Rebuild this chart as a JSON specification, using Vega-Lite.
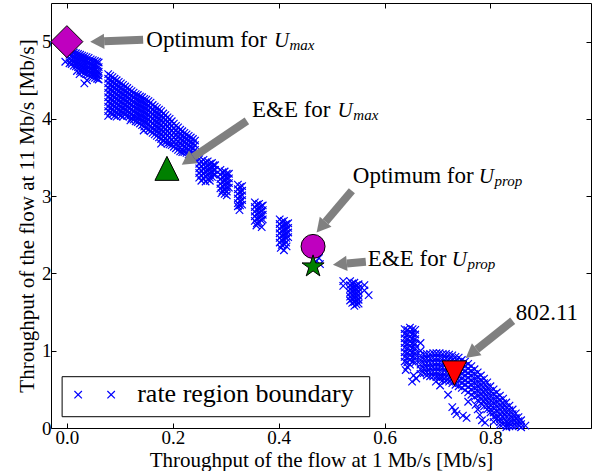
{
"$schema": "https://vega.github.io/schema/vega-lite/v6.json",
"width": 540, "height": 425,
"autosize": {"type": "none"},
"padding": {"left": 51, "top": 3, "right": 1, "bottom": 43},
"background": "white",
"config": {"view": {"stroke": "black", "strokeWidth": 1}, "font": "Liberation Serif, serif", "text": {"font": "Liberation Serif, serif"}},
"datasets": {
"boundary": [
{"x":0.005,"y":4.89},{"x":0.005,"y":4.83},{"x":0.005,"y":4.77},{"x":0.005,"y":4.72},
{"x":0.013,"y":4.86},{"x":0.013,"y":4.80},{"x":0.013,"y":4.74},{"x":0.013,"y":4.69},
{"x":0.021,"y":4.84},{"x":0.021,"y":4.78},{"x":0.021,"y":4.72},{"x":0.021,"y":4.67},
{"x":0.029,"y":4.82},{"x":0.029,"y":4.76},{"x":0.029,"y":4.70},{"x":0.029,"y":4.65},{"x":0.029,"y":4.61},
{"x":0.037,"y":4.80},{"x":0.037,"y":4.74},{"x":0.037,"y":4.68},{"x":0.037,"y":4.63},{"x":0.037,"y":4.58},
{"x":0.045,"y":4.77},{"x":0.045,"y":4.71},{"x":0.045,"y":4.65},{"x":0.045,"y":4.60},{"x":0.045,"y":4.55},
{"x":0.053,"y":4.75},{"x":0.053,"y":4.69},{"x":0.053,"y":4.63},{"x":0.053,"y":4.58},{"x":0.053,"y":4.53},
{"x":0.060,"y":4.73},{"x":0.060,"y":4.67},{"x":0.060,"y":4.61},{"x":0.060,"y":4.56},{"x":0.060,"y":4.51},
{"x":0.009,"y":4.88},{"x":0.009,"y":4.82},{"x":0.009,"y":4.76},{"x":0.009,"y":4.71},
{"x":0.017,"y":4.85},{"x":0.017,"y":4.79},{"x":0.017,"y":4.73},{"x":0.017,"y":4.68},
{"x":0.025,"y":4.83},{"x":0.025,"y":4.77},{"x":0.025,"y":4.71},{"x":0.025,"y":4.66},{"x":0.025,"y":4.62},
{"x":0.033,"y":4.81},{"x":0.033,"y":4.75},{"x":0.033,"y":4.69},{"x":0.033,"y":4.64},{"x":0.033,"y":4.59},
{"x":0.041,"y":4.79},{"x":0.041,"y":4.73},{"x":0.041,"y":4.67},{"x":0.041,"y":4.62},{"x":0.041,"y":4.57},
{"x":0.049,"y":4.76},{"x":0.049,"y":4.70},{"x":0.049,"y":4.64},{"x":0.049,"y":4.59},{"x":0.049,"y":4.54},
{"x":0.057,"y":4.74},{"x":0.057,"y":4.68},{"x":0.057,"y":4.62},{"x":0.057,"y":4.57},{"x":0.057,"y":4.52},
{"x":-0.003,"y":4.74},{"x":0.019,"y":4.62},{"x":0.024,"y":4.58},{"x":0.033,"y":4.46},{"x":0.038,"y":4.50},
{"x":0.078,"y":4.58},{"x":0.078,"y":4.52},{"x":0.078,"y":4.46},{"x":0.078,"y":4.40},{"x":0.078,"y":4.34},{"x":0.078,"y":4.28},{"x":0.078,"y":4.22},{"x":0.078,"y":4.16},{"x":0.078,"y":4.10},{"x":0.078,"y":4.04},
{"x":0.086,"y":4.54},{"x":0.086,"y":4.48},{"x":0.086,"y":4.42},{"x":0.086,"y":4.36},{"x":0.086,"y":4.30},{"x":0.086,"y":4.24},{"x":0.086,"y":4.18},{"x":0.086,"y":4.12},{"x":0.086,"y":4.06},
{"x":0.094,"y":4.50},{"x":0.094,"y":4.44},{"x":0.094,"y":4.38},{"x":0.094,"y":4.32},{"x":0.094,"y":4.26},{"x":0.094,"y":4.20},{"x":0.094,"y":4.14},{"x":0.094,"y":4.08},{"x":0.094,"y":4.03},
{"x":0.102,"y":4.46},{"x":0.102,"y":4.40},{"x":0.102,"y":4.34},{"x":0.102,"y":4.28},{"x":0.102,"y":4.22},{"x":0.102,"y":4.16},{"x":0.102,"y":4.10},{"x":0.102,"y":4.04},
{"x":0.110,"y":4.42},{"x":0.110,"y":4.36},{"x":0.110,"y":4.30},{"x":0.110,"y":4.24},{"x":0.110,"y":4.18},{"x":0.110,"y":4.12},{"x":0.110,"y":4.06},
{"x":0.118,"y":4.38},{"x":0.118,"y":4.32},{"x":0.118,"y":4.26},{"x":0.118,"y":4.20},{"x":0.118,"y":4.14},{"x":0.118,"y":4.08},{"x":0.118,"y":4.03},
{"x":0.126,"y":4.34},{"x":0.126,"y":4.28},{"x":0.126,"y":4.22},{"x":0.126,"y":4.16},{"x":0.126,"y":4.10},{"x":0.126,"y":4.04},{"x":0.126,"y":3.99},
{"x":0.082,"y":4.56},{"x":0.082,"y":4.50},{"x":0.082,"y":4.44},{"x":0.082,"y":4.38},{"x":0.082,"y":4.32},{"x":0.082,"y":4.26},{"x":0.082,"y":4.20},{"x":0.082,"y":4.14},{"x":0.082,"y":4.08},
{"x":0.090,"y":4.52},{"x":0.090,"y":4.46},{"x":0.090,"y":4.40},{"x":0.090,"y":4.34},{"x":0.090,"y":4.28},{"x":0.090,"y":4.22},{"x":0.090,"y":4.16},{"x":0.090,"y":4.10},{"x":0.090,"y":4.04},
{"x":0.098,"y":4.48},{"x":0.098,"y":4.42},{"x":0.098,"y":4.36},{"x":0.098,"y":4.30},{"x":0.098,"y":4.24},{"x":0.098,"y":4.18},{"x":0.098,"y":4.12},{"x":0.098,"y":4.06},
{"x":0.106,"y":4.44},{"x":0.106,"y":4.38},{"x":0.106,"y":4.32},{"x":0.106,"y":4.26},{"x":0.106,"y":4.20},{"x":0.106,"y":4.14},{"x":0.106,"y":4.08},{"x":0.106,"y":4.03},
{"x":0.114,"y":4.40},{"x":0.114,"y":4.34},{"x":0.114,"y":4.28},{"x":0.114,"y":4.22},{"x":0.114,"y":4.16},{"x":0.114,"y":4.10},{"x":0.114,"y":4.04},
{"x":0.122,"y":4.36},{"x":0.122,"y":4.30},{"x":0.122,"y":4.24},{"x":0.122,"y":4.18},{"x":0.122,"y":4.12},{"x":0.122,"y":4.06},{"x":0.122,"y":4.01},
{"x":0.130,"y":4.32},{"x":0.130,"y":4.26},{"x":0.130,"y":4.20},{"x":0.130,"y":4.14},{"x":0.130,"y":4.08},{"x":0.130,"y":4.02},{"x":0.130,"y":3.97},
{"x":0.134,"y":4.31},{"x":0.134,"y":4.25},{"x":0.134,"y":4.19},{"x":0.134,"y":4.13},{"x":0.134,"y":4.07},{"x":0.134,"y":4.01},{"x":0.134,"y":3.96},
{"x":0.142,"y":4.28},{"x":0.142,"y":4.22},{"x":0.142,"y":4.16},{"x":0.142,"y":4.10},{"x":0.142,"y":4.04},{"x":0.142,"y":3.98},{"x":0.142,"y":3.92},
{"x":0.150,"y":4.25},{"x":0.150,"y":4.19},{"x":0.150,"y":4.13},{"x":0.150,"y":4.07},{"x":0.150,"y":4.01},{"x":0.150,"y":3.95},{"x":0.150,"y":3.88},
{"x":0.158,"y":4.21},{"x":0.158,"y":4.15},{"x":0.158,"y":4.09},{"x":0.158,"y":4.03},{"x":0.158,"y":3.97},{"x":0.158,"y":3.91},{"x":0.158,"y":3.84},
{"x":0.166,"y":4.16},{"x":0.166,"y":4.10},{"x":0.166,"y":4.04},{"x":0.166,"y":3.98},{"x":0.166,"y":3.92},{"x":0.166,"y":3.86},{"x":0.166,"y":3.80},
{"x":0.174,"y":4.12},{"x":0.174,"y":4.06},{"x":0.174,"y":4.00},{"x":0.174,"y":3.94},{"x":0.174,"y":3.88},{"x":0.174,"y":3.82},{"x":0.174,"y":3.76},
{"x":0.182,"y":4.07},{"x":0.182,"y":4.01},{"x":0.182,"y":3.95},{"x":0.182,"y":3.89},{"x":0.182,"y":3.83},{"x":0.182,"y":3.77},{"x":0.182,"y":3.72},
{"x":0.190,"y":4.02},{"x":0.190,"y":3.96},{"x":0.190,"y":3.90},{"x":0.190,"y":3.84},{"x":0.190,"y":3.78},{"x":0.190,"y":3.72},{"x":0.190,"y":3.68},
{"x":0.198,"y":3.97},{"x":0.198,"y":3.91},{"x":0.198,"y":3.85},{"x":0.198,"y":3.79},{"x":0.198,"y":3.73},{"x":0.198,"y":3.66},
{"x":0.206,"y":3.91},{"x":0.206,"y":3.85},{"x":0.206,"y":3.79},{"x":0.206,"y":3.73},{"x":0.206,"y":3.67},{"x":0.206,"y":3.62},
{"x":0.214,"y":3.86},{"x":0.214,"y":3.80},{"x":0.214,"y":3.74},{"x":0.214,"y":3.68},{"x":0.214,"y":3.63},{"x":0.214,"y":3.58},
{"x":0.222,"y":3.82},{"x":0.222,"y":3.76},{"x":0.222,"y":3.70},{"x":0.222,"y":3.64},{"x":0.222,"y":3.57},
{"x":0.230,"y":3.78},{"x":0.230,"y":3.72},{"x":0.230,"y":3.66},{"x":0.230,"y":3.60},{"x":0.230,"y":3.54},
{"x":0.238,"y":3.74},{"x":0.238,"y":3.68},{"x":0.238,"y":3.62},{"x":0.238,"y":3.56},{"x":0.238,"y":3.51},
{"x":0.138,"y":4.29},{"x":0.138,"y":4.23},{"x":0.138,"y":4.17},{"x":0.138,"y":4.11},{"x":0.138,"y":4.05},{"x":0.138,"y":3.99},{"x":0.138,"y":3.94},
{"x":0.146,"y":4.26},{"x":0.146,"y":4.20},{"x":0.146,"y":4.14},{"x":0.146,"y":4.08},{"x":0.146,"y":4.02},{"x":0.146,"y":3.96},{"x":0.146,"y":3.90},
{"x":0.154,"y":4.23},{"x":0.154,"y":4.17},{"x":0.154,"y":4.11},{"x":0.154,"y":4.05},{"x":0.154,"y":3.99},{"x":0.154,"y":3.93},{"x":0.154,"y":3.86},
{"x":0.162,"y":4.18},{"x":0.162,"y":4.12},{"x":0.162,"y":4.06},{"x":0.162,"y":4.00},{"x":0.162,"y":3.94},{"x":0.162,"y":3.88},{"x":0.162,"y":3.82},
{"x":0.170,"y":4.14},{"x":0.170,"y":4.08},{"x":0.170,"y":4.02},{"x":0.170,"y":3.96},{"x":0.170,"y":3.90},{"x":0.170,"y":3.84},{"x":0.170,"y":3.78},
{"x":0.178,"y":4.10},{"x":0.178,"y":4.04},{"x":0.178,"y":3.98},{"x":0.178,"y":3.92},{"x":0.178,"y":3.86},{"x":0.178,"y":3.80},{"x":0.178,"y":3.74},
{"x":0.186,"y":4.05},{"x":0.186,"y":3.99},{"x":0.186,"y":3.93},{"x":0.186,"y":3.87},{"x":0.186,"y":3.81},{"x":0.186,"y":3.75},{"x":0.186,"y":3.70},
{"x":0.194,"y":4.00},{"x":0.194,"y":3.94},{"x":0.194,"y":3.88},{"x":0.194,"y":3.82},{"x":0.194,"y":3.76},{"x":0.194,"y":3.70},{"x":0.194,"y":3.67},
{"x":0.202,"y":3.94},{"x":0.202,"y":3.88},{"x":0.202,"y":3.82},{"x":0.202,"y":3.76},{"x":0.202,"y":3.70},{"x":0.202,"y":3.64},
{"x":0.210,"y":3.89},{"x":0.210,"y":3.83},{"x":0.210,"y":3.77},{"x":0.210,"y":3.71},{"x":0.210,"y":3.65},{"x":0.210,"y":3.60},
{"x":0.218,"y":3.84},{"x":0.218,"y":3.78},{"x":0.218,"y":3.72},{"x":0.218,"y":3.66},{"x":0.218,"y":3.60},{"x":0.218,"y":3.57},
{"x":0.226,"y":3.80},{"x":0.226,"y":3.74},{"x":0.226,"y":3.68},{"x":0.226,"y":3.62},{"x":0.226,"y":3.56},
{"x":0.234,"y":3.76},{"x":0.234,"y":3.70},{"x":0.234,"y":3.64},{"x":0.234,"y":3.58},{"x":0.234,"y":3.52},
{"x":0.242,"y":3.72},{"x":0.242,"y":3.66},{"x":0.242,"y":3.60},{"x":0.242,"y":3.54},{"x":0.242,"y":3.50},
{"x":0.145,"y":3.85},{"x":0.178,"y":3.68},{"x":0.120,"y":3.98},
{"x":0.250,"y":3.48},{"x":0.250,"y":3.42},{"x":0.250,"y":3.36},{"x":0.250,"y":3.30},{"x":0.250,"y":3.24},
{"x":0.258,"y":3.47},{"x":0.258,"y":3.41},{"x":0.258,"y":3.35},{"x":0.258,"y":3.29},{"x":0.258,"y":3.23},
{"x":0.266,"y":3.45},{"x":0.266,"y":3.39},{"x":0.266,"y":3.33},{"x":0.266,"y":3.27},{"x":0.266,"y":3.22},
{"x":0.274,"y":3.43},{"x":0.274,"y":3.37},{"x":0.274,"y":3.31},{"x":0.274,"y":3.25},
{"x":0.280,"y":3.40},{"x":0.280,"y":3.34},{"x":0.280,"y":3.28},
{"x":0.254,"y":3.45},{"x":0.254,"y":3.39},{"x":0.254,"y":3.33},{"x":0.254,"y":3.27},
{"x":0.262,"y":3.44},{"x":0.262,"y":3.38},{"x":0.262,"y":3.32},{"x":0.262,"y":3.26},
{"x":0.270,"y":3.42},{"x":0.270,"y":3.36},{"x":0.270,"y":3.30},{"x":0.270,"y":3.24},
{"x":0.277,"y":3.40},{"x":0.277,"y":3.34},{"x":0.277,"y":3.28},
{"x":0.254,"y":3.20},{"x":0.262,"y":3.19},{"x":0.270,"y":3.20},
{"x":0.290,"y":3.34},{"x":0.290,"y":3.28},{"x":0.290,"y":3.22},{"x":0.290,"y":3.16},{"x":0.290,"y":3.10},
{"x":0.298,"y":3.32},{"x":0.298,"y":3.26},{"x":0.298,"y":3.20},{"x":0.298,"y":3.14},{"x":0.298,"y":3.08},{"x":0.298,"y":3.03},
{"x":0.306,"y":3.29},{"x":0.306,"y":3.23},{"x":0.306,"y":3.17},{"x":0.306,"y":3.11},
{"x":0.294,"y":3.31},{"x":0.294,"y":3.25},{"x":0.294,"y":3.19},{"x":0.294,"y":3.13},{"x":0.294,"y":3.07},
{"x":0.302,"y":3.29},{"x":0.302,"y":3.23},{"x":0.302,"y":3.17},{"x":0.302,"y":3.11},{"x":0.302,"y":3.06},
{"x":0.292,"y":3.04},{"x":0.302,"y":3.01},
{"x":0.323,"y":3.15},{"x":0.323,"y":3.09},{"x":0.323,"y":3.03},{"x":0.323,"y":2.97},{"x":0.323,"y":2.91},{"x":0.323,"y":2.87},
{"x":0.331,"y":3.13},{"x":0.331,"y":3.07},{"x":0.331,"y":3.01},{"x":0.331,"y":2.95},{"x":0.331,"y":2.89},
{"x":0.327,"y":3.12},{"x":0.327,"y":3.06},{"x":0.327,"y":3.00},{"x":0.327,"y":2.94},{"x":0.327,"y":2.88},
{"x":0.326,"y":2.82},
{"x":0.355,"y":2.92},{"x":0.355,"y":2.86},{"x":0.355,"y":2.80},{"x":0.355,"y":2.74},{"x":0.355,"y":2.68},
{"x":0.363,"y":2.90},{"x":0.363,"y":2.84},{"x":0.363,"y":2.78},{"x":0.363,"y":2.72},{"x":0.363,"y":2.66},
{"x":0.370,"y":2.88},{"x":0.370,"y":2.82},{"x":0.370,"y":2.76},{"x":0.370,"y":2.70},
{"x":0.359,"y":2.89},{"x":0.359,"y":2.83},{"x":0.359,"y":2.77},{"x":0.359,"y":2.71},{"x":0.359,"y":2.65},
{"x":0.367,"y":2.87},{"x":0.367,"y":2.81},{"x":0.367,"y":2.75},{"x":0.367,"y":2.69},
{"x":0.358,"y":2.62},{"x":0.368,"y":2.60},
{"x":0.402,"y":2.70},{"x":0.402,"y":2.64},{"x":0.402,"y":2.58},{"x":0.402,"y":2.52},{"x":0.402,"y":2.46},{"x":0.402,"y":2.40},
{"x":0.410,"y":2.68},{"x":0.410,"y":2.62},{"x":0.410,"y":2.56},{"x":0.410,"y":2.50},{"x":0.410,"y":2.44},{"x":0.410,"y":2.38},
{"x":0.418,"y":2.65},{"x":0.418,"y":2.59},{"x":0.418,"y":2.53},{"x":0.418,"y":2.47},
{"x":0.406,"y":2.67},{"x":0.406,"y":2.61},{"x":0.406,"y":2.55},{"x":0.406,"y":2.49},{"x":0.406,"y":2.43},{"x":0.406,"y":2.37},
{"x":0.414,"y":2.64},{"x":0.414,"y":2.58},{"x":0.414,"y":2.52},{"x":0.414,"y":2.46},{"x":0.414,"y":2.40},
{"x":0.404,"y":2.33},{"x":0.410,"y":2.30},{"x":0.415,"y":2.35},
{"x":0.468,"y":2.25},{"x":0.476,"y":2.20},{"x":0.470,"y":2.15},{"x":0.478,"y":2.12},
{"x":0.522,"y":1.90},{"x":0.522,"y":1.84},
{"x":0.535,"y":1.90},{"x":0.535,"y":1.85},{"x":0.535,"y":1.80},{"x":0.535,"y":1.75},{"x":0.535,"y":1.70},{"x":0.535,"y":1.65},
{"x":0.543,"y":1.88},{"x":0.543,"y":1.83},{"x":0.543,"y":1.78},{"x":0.543,"y":1.73},{"x":0.543,"y":1.68},{"x":0.543,"y":1.63},{"x":0.543,"y":1.58},
{"x":0.551,"y":1.86},{"x":0.551,"y":1.81},{"x":0.551,"y":1.76},{"x":0.551,"y":1.71},{"x":0.551,"y":1.66},{"x":0.551,"y":1.61},
{"x":0.539,"y":1.87},{"x":0.539,"y":1.82},{"x":0.539,"y":1.77},{"x":0.539,"y":1.72},{"x":0.539,"y":1.67},{"x":0.539,"y":1.62},
{"x":0.547,"y":1.85},{"x":0.547,"y":1.80},{"x":0.547,"y":1.75},{"x":0.547,"y":1.70},{"x":0.547,"y":1.65},{"x":0.547,"y":1.60},
{"x":0.562,"y":1.85},{"x":0.562,"y":1.78},{"x":0.570,"y":1.72},
{"x":0.638,"y":1.28},{"x":0.638,"y":1.22},{"x":0.638,"y":1.16},{"x":0.638,"y":1.10},{"x":0.638,"y":1.04},{"x":0.638,"y":0.98},{"x":0.638,"y":0.92},{"x":0.638,"y":0.86},
{"x":0.648,"y":1.30},{"x":0.648,"y":1.24},{"x":0.648,"y":1.18},{"x":0.648,"y":1.12},{"x":0.648,"y":1.06},{"x":0.648,"y":1.00},{"x":0.648,"y":0.94},{"x":0.648,"y":0.88},{"x":0.648,"y":0.82},
{"x":0.658,"y":1.27},{"x":0.658,"y":1.21},{"x":0.658,"y":1.15},{"x":0.658,"y":1.09},{"x":0.658,"y":1.03},{"x":0.658,"y":0.97},{"x":0.658,"y":0.91},{"x":0.658,"y":0.85},
{"x":0.643,"y":1.27},{"x":0.643,"y":1.21},{"x":0.643,"y":1.15},{"x":0.643,"y":1.09},{"x":0.643,"y":1.03},{"x":0.643,"y":0.97},{"x":0.643,"y":0.91},{"x":0.643,"y":0.85},{"x":0.643,"y":0.79},
{"x":0.653,"y":1.28},{"x":0.653,"y":1.22},{"x":0.653,"y":1.16},{"x":0.653,"y":1.10},{"x":0.653,"y":1.04},{"x":0.653,"y":0.98},{"x":0.653,"y":0.92},{"x":0.653,"y":0.86},
{"x":0.668,"y":1.10},{"x":0.668,"y":1.00},
{"x":0.640,"y":0.75},{"x":0.655,"y":0.68},{"x":0.660,"y":0.64},{"x":0.652,"y":0.60},
{"x":0.668,"y":0.94},{"x":0.668,"y":0.88},{"x":0.668,"y":0.82},{"x":0.668,"y":0.76},{"x":0.668,"y":0.70},
{"x":0.680,"y":0.96},{"x":0.680,"y":0.90},{"x":0.680,"y":0.84},{"x":0.680,"y":0.78},{"x":0.680,"y":0.72},{"x":0.680,"y":0.68},
{"x":0.692,"y":0.97},{"x":0.692,"y":0.91},{"x":0.692,"y":0.85},{"x":0.692,"y":0.79},{"x":0.692,"y":0.73},{"x":0.692,"y":0.67},
{"x":0.704,"y":0.97},{"x":0.704,"y":0.91},{"x":0.704,"y":0.85},{"x":0.704,"y":0.79},{"x":0.704,"y":0.73},{"x":0.704,"y":0.67},{"x":0.704,"y":0.64},
{"x":0.716,"y":0.96},{"x":0.716,"y":0.90},{"x":0.716,"y":0.84},{"x":0.716,"y":0.78},{"x":0.716,"y":0.72},{"x":0.716,"y":0.66},{"x":0.716,"y":0.61},
{"x":0.728,"y":0.94},{"x":0.728,"y":0.88},{"x":0.728,"y":0.82},{"x":0.728,"y":0.76},{"x":0.728,"y":0.70},{"x":0.728,"y":0.64},{"x":0.728,"y":0.58},
{"x":0.740,"y":0.91},{"x":0.740,"y":0.85},{"x":0.740,"y":0.79},{"x":0.740,"y":0.73},{"x":0.740,"y":0.67},{"x":0.740,"y":0.61},{"x":0.740,"y":0.54},
{"x":0.752,"y":0.86},{"x":0.752,"y":0.80},{"x":0.752,"y":0.74},{"x":0.752,"y":0.68},{"x":0.752,"y":0.62},{"x":0.752,"y":0.56},{"x":0.752,"y":0.49},
{"x":0.764,"y":0.80},{"x":0.764,"y":0.74},{"x":0.764,"y":0.68},{"x":0.764,"y":0.62},{"x":0.764,"y":0.56},{"x":0.764,"y":0.50},{"x":0.764,"y":0.43},
{"x":0.776,"y":0.72},{"x":0.776,"y":0.66},{"x":0.776,"y":0.60},{"x":0.776,"y":0.54},{"x":0.776,"y":0.48},{"x":0.776,"y":0.42},{"x":0.776,"y":0.36},
{"x":0.788,"y":0.64},{"x":0.788,"y":0.58},{"x":0.788,"y":0.52},{"x":0.788,"y":0.46},{"x":0.788,"y":0.40},{"x":0.788,"y":0.34},{"x":0.788,"y":0.28},
{"x":0.800,"y":0.54},{"x":0.800,"y":0.48},{"x":0.800,"y":0.42},{"x":0.800,"y":0.36},{"x":0.800,"y":0.30},{"x":0.800,"y":0.24},{"x":0.800,"y":0.20},
{"x":0.812,"y":0.46},{"x":0.812,"y":0.40},{"x":0.812,"y":0.34},{"x":0.812,"y":0.28},{"x":0.812,"y":0.22},{"x":0.812,"y":0.16},{"x":0.812,"y":0.12},
{"x":0.824,"y":0.38},{"x":0.824,"y":0.32},{"x":0.824,"y":0.26},{"x":0.824,"y":0.20},{"x":0.824,"y":0.14},{"x":0.824,"y":0.08},{"x":0.824,"y":0.05},
{"x":0.836,"y":0.29},{"x":0.836,"y":0.23},{"x":0.836,"y":0.17},{"x":0.836,"y":0.11},{"x":0.836,"y":0.06},{"x":0.836,"y":0.02},
{"x":0.848,"y":0.19},{"x":0.848,"y":0.13},{"x":0.848,"y":0.08},{"x":0.848,"y":0.03},
{"x":0.858,"y":0.10},{"x":0.858,"y":0.05},{"x":0.858,"y":0.01},{"x":0.866,"y":0.03},
{"x":0.674,"y":0.95},{"x":0.674,"y":0.89},{"x":0.674,"y":0.83},{"x":0.674,"y":0.77},{"x":0.674,"y":0.71},
{"x":0.686,"y":0.96},{"x":0.686,"y":0.90},{"x":0.686,"y":0.84},{"x":0.686,"y":0.78},{"x":0.686,"y":0.72},{"x":0.686,"y":0.67},
{"x":0.698,"y":0.97},{"x":0.698,"y":0.91},{"x":0.698,"y":0.85},{"x":0.698,"y":0.79},{"x":0.698,"y":0.73},{"x":0.698,"y":0.66},
{"x":0.710,"y":0.96},{"x":0.710,"y":0.90},{"x":0.710,"y":0.84},{"x":0.710,"y":0.78},{"x":0.710,"y":0.72},{"x":0.710,"y":0.66},{"x":0.710,"y":0.62},
{"x":0.722,"y":0.95},{"x":0.722,"y":0.89},{"x":0.722,"y":0.83},{"x":0.722,"y":0.77},{"x":0.722,"y":0.71},{"x":0.722,"y":0.65},{"x":0.722,"y":0.60},
{"x":0.734,"y":0.92},{"x":0.734,"y":0.86},{"x":0.734,"y":0.80},{"x":0.734,"y":0.74},{"x":0.734,"y":0.68},{"x":0.734,"y":0.62},{"x":0.734,"y":0.56},
{"x":0.746,"y":0.88},{"x":0.746,"y":0.82},{"x":0.746,"y":0.76},{"x":0.746,"y":0.70},{"x":0.746,"y":0.64},{"x":0.746,"y":0.58},{"x":0.746,"y":0.52},
{"x":0.758,"y":0.83},{"x":0.758,"y":0.77},{"x":0.758,"y":0.71},{"x":0.758,"y":0.65},{"x":0.758,"y":0.59},{"x":0.758,"y":0.53},{"x":0.758,"y":0.46},
{"x":0.770,"y":0.76},{"x":0.770,"y":0.70},{"x":0.770,"y":0.64},{"x":0.770,"y":0.58},{"x":0.770,"y":0.52},{"x":0.770,"y":0.46},{"x":0.770,"y":0.40},
{"x":0.782,"y":0.68},{"x":0.782,"y":0.62},{"x":0.782,"y":0.56},{"x":0.782,"y":0.50},{"x":0.782,"y":0.44},{"x":0.782,"y":0.38},{"x":0.782,"y":0.32},
{"x":0.794,"y":0.59},{"x":0.794,"y":0.53},{"x":0.794,"y":0.47},{"x":0.794,"y":0.41},{"x":0.794,"y":0.35},{"x":0.794,"y":0.29},{"x":0.794,"y":0.24},
{"x":0.806,"y":0.50},{"x":0.806,"y":0.44},{"x":0.806,"y":0.38},{"x":0.806,"y":0.32},{"x":0.806,"y":0.26},{"x":0.806,"y":0.20},{"x":0.806,"y":0.14},
{"x":0.818,"y":0.42},{"x":0.818,"y":0.36},{"x":0.818,"y":0.30},{"x":0.818,"y":0.24},{"x":0.818,"y":0.18},{"x":0.818,"y":0.12},{"x":0.818,"y":0.08},
{"x":0.830,"y":0.33},{"x":0.830,"y":0.27},{"x":0.830,"y":0.21},{"x":0.830,"y":0.15},{"x":0.830,"y":0.09},{"x":0.830,"y":0.04},
{"x":0.842,"y":0.24},{"x":0.842,"y":0.18},{"x":0.842,"y":0.12},{"x":0.842,"y":0.07},{"x":0.842,"y":0.02},
{"x":0.853,"y":0.14},{"x":0.853,"y":0.09},{"x":0.853,"y":0.04},
{"x":0.806,"y":0.08},{"x":0.818,"y":0.04},{"x":0.830,"y":0.01},
{"x":0.697,"y":0.60},{"x":0.705,"y":0.55},{"x":0.720,"y":0.43},{"x":0.728,"y":0.27},{"x":0.733,"y":0.22},{"x":0.736,"y":0.18},
{"x":0.748,"y":0.16},{"x":0.755,"y":0.13},{"x":0.758,"y":0.34},{"x":0.772,"y":0.30},{"x":0.776,"y":0.24},{"x":0.780,"y":0.17},{"x":0.784,"y":0.10},{"x":0.790,"y":0.07}
],
"markers": [
{"name":"optmax","x":0.0,"y":5.0},
{"name":"eemax","x":0.189,"y":3.36},
{"name":"optprop","x":0.465,"y":2.35},
{"name":"eeprop","x":0.465,"y":2.09},
{"name":"dot11","x":0.732,"y":0.71}
],
"arrows": [
{"x":0.144,"y":5.023,"xb":0.0704,"yb":5.004,"xt":0.044,"yt":4.997,"angle":267.8},
{"x":0.340,"y":3.974,"xb":0.2389,"yb":3.507,"xt":0.217,"yt":3.406,"angle":236},
{"x":0.5383,"y":3.070,"xb":0.4887,"yb":2.669,"xt":0.4717,"yt":2.530,"angle":220.2},
{"x":0.5647,"y":2.151,"xb":0.5289,"yb":2.129,"xt":0.5025,"yt":2.113,"angle":264.8},
{"x":0.8421,"y":1.388,"xb":0.7742,"yb":1.018,"xt":0.7534,"yt":0.906,"angle":231.6}
],
"texts": [
{"t":"Optimum for","x":0.150,"y":4.933,"part":"main"},
{"t":"E&E for","x":0.3496,"y":4.031,"part":"main"},
{"t":"Optimum for","x":0.5402,"y":3.169,"part":"main"},
{"t":"E&E for","x":0.5685,"y":2.091,"part":"main"},
{"t":"802.11","x":0.8477,"y":1.402,"part":"main"},
{"t":"U","x":0.3913,"y":4.933,"part":"it"},
{"t":"U","x":0.511,"y":4.031,"part":"it"},
{"t":"U","x":0.778,"y":3.169,"part":"it"},
{"t":"U","x":0.727,"y":2.091,"part":"it"},
{"t":"max","x":0.4205,"y":4.894,"part":"sub"},
{"t":"max","x":0.541,"y":3.992,"part":"sub"},
{"t":"prop","x":0.8075,"y":3.131,"part":"sub"},
{"t":"prop","x":0.7565,"y":2.052,"part":"sub"}
],
"legendbox": [{"x":-0.009,"x2":0.572,"y":0.664,"y2":0.146}],
"legendmarks": [{"x":0.0213,"y":0.431},{"x":0.0836,"y":0.431}],
"legendtext": [{"t":"rate region boundary","x":0.1328,"y":0.341}]
},
"layer": [
{
"data": {"name": "boundary"},
"mark": {"type": "point", "shape": "M-1,-1L1,1M-1,1L1,-1", "filled": false, "stroke": "#0000ff", "strokeWidth": 1.2, "size": 56, "opacity": 1},
"encoding": {
"x": {"field": "x", "type": "quantitative", "scale": {"domain": [-0.03, 0.99], "nice": false, "zero": false},
"axis": {"orient": "bottom", "values": [0, 0.2, 0.4, 0.6, 0.8], "format": ".1f", "title": "Throughput of the flow at 1 Mb/s [Mb/s]", "domain": false, "grid": false, "tickSize": -5, "tickColor": "black", "tickWidth": 1, "labelPadding": 5, "labelFont": "Liberation Serif, serif", "labelFontSize": 19, "labelColor": "black", "titleFont": "Liberation Serif, serif", "titleFontSize": 21, "titleFontWeight": "normal", "titleColor": "black", "titlePadding": 2}},
"y": {"field": "y", "type": "quantitative", "scale": {"domain": [0, 5.5], "nice": false, "zero": false},
"axis": {"orient": "left", "values": [0, 1, 2, 3, 4, 5], "format": "d", "title": "Throughput of the flow at 11 Mb/s [Mb/s]", "domain": false, "grid": false, "tickSize": -5, "tickColor": "black", "tickWidth": 1, "labelPadding": 5, "labelFont": "Liberation Serif, serif", "labelFontSize": 19, "labelColor": "black", "titleFont": "Liberation Serif, serif", "titleFontSize": 21, "titleFontWeight": "normal", "titleColor": "black", "titlePadding": 4}}
}
},
{
"data": {"name": "markers"},
"mark": {"type": "point", "opacity": 0},
"encoding": {
"x": {"field": "x", "type": "quantitative", "scale": {"domain": [-0.03, 0.99], "nice": false, "zero": false},
"axis": {"orient": "top", "values": [0, 0.2, 0.4, 0.6, 0.8], "labels": false, "title": null, "domain": false, "grid": false, "tickSize": -5, "tickColor": "black"}},
"y": {"field": "y", "type": "quantitative", "scale": {"domain": [0, 5.5], "nice": false, "zero": false},
"axis": {"orient": "right", "values": [0, 1, 2, 3, 4, 5], "labels": false, "title": null, "domain": false, "grid": false, "tickSize": -5, "tickColor": "black"}}
}
},
{
"data": {"name": "arrows"},
"mark": {"type": "rule", "color": "#808080", "strokeWidth": 8, "strokeCap": "butt"},
"encoding": {
"x": {"field": "x", "type": "quantitative", "scale": {"domain": [-0.03, 0.99], "nice": false, "zero": false}, "axis": null},
"y": {"field": "y", "type": "quantitative", "scale": {"domain": [0, 5.5], "nice": false, "zero": false}, "axis": null},
"x2": {"field": "xb"},
"y2": {"field": "yb"}
}
},
{
"data": {"name": "arrows"},
"mark": {"type": "point", "shape": "M0,0L0.55,1L-0.55,1Z", "filled": true, "fill": "#808080", "strokeWidth": 0, "size": 784, "opacity": 1},
"encoding": {
"x": {"field": "xt", "type": "quantitative", "scale": {"domain": [-0.03, 0.99], "nice": false, "zero": false}, "axis": null},
"y": {"field": "yt", "type": "quantitative", "scale": {"domain": [0, 5.5], "nice": false, "zero": false}, "axis": null},
"angle": {"field": "angle", "type": "quantitative", "scale": null}
}
},
{
"data": {"name": "markers"},
"transform": [{"filter": "datum.name === 'optmax'"}],
"mark": {"type": "point", "shape": "M-1,0L0,-1L1,0L0,1Z", "filled": true, "fill": "#bf00bf", "stroke": "black", "strokeWidth": 1, "size": 1024, "opacity": 1},
"encoding": {
"x": {"field": "x", "type": "quantitative", "scale": {"domain": [-0.03, 0.99], "nice": false, "zero": false}, "axis": null},
"y": {"field": "y", "type": "quantitative", "scale": {"domain": [0, 5.5], "nice": false, "zero": false}, "axis": null}
}
},
{
"data": {"name": "markers"},
"transform": [{"filter": "datum.name === 'eemax'"}],
"mark": {"type": "point", "shape": "M0,-1L1,1L-1,1Z", "filled": true, "fill": "#008000", "stroke": "black", "strokeWidth": 1, "size": 576, "opacity": 1},
"encoding": {
"x": {"field": "x", "type": "quantitative", "scale": {"domain": [-0.03, 0.99], "nice": false, "zero": false}, "axis": null},
"y": {"field": "y", "type": "quantitative", "scale": {"domain": [0, 5.5], "nice": false, "zero": false}, "axis": null}
}
},
{
"data": {"name": "markers"},
"transform": [{"filter": "datum.name === 'optprop'"}],
"mark": {"type": "point", "shape": "circle", "filled": true, "fill": "#bf00bf", "stroke": "black", "strokeWidth": 1, "size": 576, "opacity": 1},
"encoding": {
"x": {"field": "x", "type": "quantitative", "scale": {"domain": [-0.03, 0.99], "nice": false, "zero": false}, "axis": null},
"y": {"field": "y", "type": "quantitative", "scale": {"domain": [0, 5.5], "nice": false, "zero": false}, "axis": null}
}
},
{
"data": {"name": "markers"},
"transform": [{"filter": "datum.name === 'eeprop'"}],
"mark": {"type": "point", "shape": "M0,-1L0.2245,-0.309L0.951,-0.309L0.363,0.118L0.588,0.809L0,0.382L-0.588,0.809L-0.363,0.118L-0.951,-0.309L-0.2245,-0.309Z", "filled": true, "fill": "#008000", "stroke": "black", "strokeWidth": 1, "size": 540, "opacity": 1},
"encoding": {
"x": {"field": "x", "type": "quantitative", "scale": {"domain": [-0.03, 0.99], "nice": false, "zero": false}, "axis": null},
"y": {"field": "y", "type": "quantitative", "scale": {"domain": [0, 5.5], "nice": false, "zero": false}, "axis": null}
}
},
{
"data": {"name": "markers"},
"transform": [{"filter": "datum.name === 'dot11'"}],
"mark": {"type": "point", "shape": "M-1,-1L1,-1L0,1Z", "filled": true, "fill": "#ff0000", "stroke": "black", "strokeWidth": 1, "size": 600, "opacity": 1},
"encoding": {
"x": {"field": "x", "type": "quantitative", "scale": {"domain": [-0.03, 0.99], "nice": false, "zero": false}, "axis": null},
"y": {"field": "y", "type": "quantitative", "scale": {"domain": [0, 5.5], "nice": false, "zero": false}, "axis": null}
}
},
{
"data": {"name": "texts"},
"transform": [{"filter": "datum.part === 'main'"}],
"mark": {"type": "text", "align": "left", "baseline": "alphabetic", "font": "Liberation Serif, serif", "fontSize": 23, "color": "black"},
"encoding": {
"x": {"field": "x", "type": "quantitative", "scale": {"domain": [-0.03, 0.99], "nice": false, "zero": false}, "axis": null},
"y": {"field": "y", "type": "quantitative", "scale": {"domain": [0, 5.5], "nice": false, "zero": false}, "axis": null},
"text": {"field": "t"}
}
},
{
"data": {"name": "texts"},
"transform": [{"filter": "datum.part === 'it'"}],
"mark": {"type": "text", "align": "left", "baseline": "alphabetic", "font": "Liberation Serif, serif", "fontStyle": "italic", "fontSize": 21, "color": "black"},
"encoding": {
"x": {"field": "x", "type": "quantitative", "scale": {"domain": [-0.03, 0.99], "nice": false, "zero": false}, "axis": null},
"y": {"field": "y", "type": "quantitative", "scale": {"domain": [0, 5.5], "nice": false, "zero": false}, "axis": null},
"text": {"field": "t"}
}
},
{
"data": {"name": "texts"},
"transform": [{"filter": "datum.part === 'sub'"}],
"mark": {"type": "text", "align": "left", "baseline": "alphabetic", "font": "Liberation Serif, serif", "fontStyle": "italic", "fontSize": 15, "color": "black"},
"encoding": {
"x": {"field": "x", "type": "quantitative", "scale": {"domain": [-0.03, 0.99], "nice": false, "zero": false}, "axis": null},
"y": {"field": "y", "type": "quantitative", "scale": {"domain": [0, 5.5], "nice": false, "zero": false}, "axis": null},
"text": {"field": "t"}
}
},
{
"data": {"name": "legendbox"},
"mark": {"type": "rect", "fill": "white", "stroke": "black", "strokeWidth": 1},
"encoding": {
"x": {"field": "x", "type": "quantitative", "scale": {"domain": [-0.03, 0.99], "nice": false, "zero": false}, "axis": null},
"y": {"field": "y", "type": "quantitative", "scale": {"domain": [0, 5.5], "nice": false, "zero": false}, "axis": null},
"x2": {"field": "x2"},
"y2": {"field": "y2"}
}
},
{
"data": {"name": "legendmarks"},
"mark": {"type": "point", "shape": "M-1,-1L1,1M-1,1L1,-1", "filled": false, "stroke": "#0000ff", "strokeWidth": 1.2, "size": 56, "opacity": 1},
"encoding": {
"x": {"field": "x", "type": "quantitative", "scale": {"domain": [-0.03, 0.99], "nice": false, "zero": false}, "axis": null},
"y": {"field": "y", "type": "quantitative", "scale": {"domain": [0, 5.5], "nice": false, "zero": false}, "axis": null}
}
},
{
"data": {"name": "legendtext"},
"mark": {"type": "text", "align": "left", "baseline": "alphabetic", "font": "Liberation Serif, serif", "fontSize": 26, "color": "black"},
"encoding": {
"x": {"field": "x", "type": "quantitative", "scale": {"domain": [-0.03, 0.99], "nice": false, "zero": false}, "axis": null},
"y": {"field": "y", "type": "quantitative", "scale": {"domain": [0, 5.5], "nice": false, "zero": false}, "axis": null},
"text": {"field": "t"}
}
}
],
"resolve": {"axis": {"x": "independent", "y": "independent"}}
}
